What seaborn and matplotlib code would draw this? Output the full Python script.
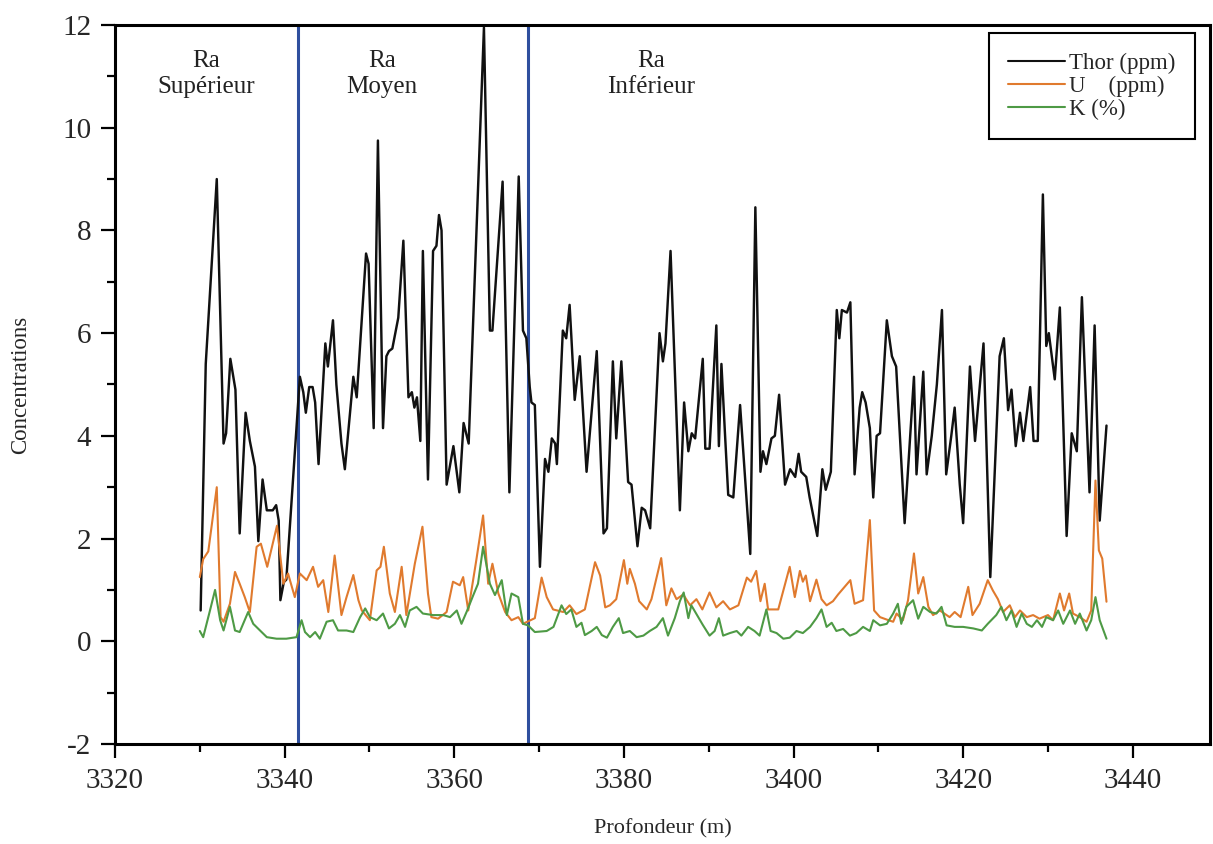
import matplotlib
matplotlib.use("Agg")
import matplotlib.pyplot as plt
from matplotlib.ticker import MultipleLocator
import pandas as pd
import seaborn as sns

# Well log: gamma-spectrometry concentrations versus depth (m)
thor_points = [
    (3330.1, 0.6), (3330.7, 5.4), (3332.0, 9.0), (3332.8, 3.85), (3333.1, 4.05),
    (3333.6, 5.5), (3334.2, 4.9), (3334.7, 2.1), (3335.4, 4.45), (3335.9, 3.9),
    (3336.5, 3.4), (3336.9, 1.95), (3337.4, 3.15), (3337.9, 2.55), (3338.6, 2.55),
    (3339.0, 2.65), (3339.3, 2.35), (3339.5, 0.8), (3339.9, 1.15), (3340.2, 1.2),
    (3341.8, 5.15), (3342.2, 4.85), (3342.5, 4.45), (3342.9, 4.95), (3343.3, 4.95),
    (3343.6, 4.65), (3344.0, 3.45), (3344.8, 5.8), (3345.1, 5.35), (3345.7, 6.25),
    (3346.1, 5.0), (3346.7, 3.85), (3347.1, 3.35), (3348.1, 5.15), (3348.5, 4.75),
    (3349.6, 7.55), (3349.9, 7.35), (3350.5, 4.15), (3351.0, 9.75), (3351.6, 4.15),
    (3352.0, 5.55), (3352.3, 5.65), (3352.7, 5.7), (3353.4, 6.3), (3354.0, 7.8),
    (3354.6, 4.75), (3355.0, 4.85), (3355.3, 4.55), (3355.6, 4.75), (3356.0, 3.9),
    (3356.3, 7.6), (3356.9, 3.15), (3357.5, 7.6), (3357.9, 7.7), (3358.2, 8.3),
    (3358.5, 8.0), (3359.1, 3.05), (3359.9, 3.8), (3360.6, 2.9), (3361.1, 4.25),
    (3361.7, 3.85), (3363.5, 11.95), (3364.2, 6.05), (3364.5, 6.05), (3365.7, 8.95),
    (3366.5, 2.9), (3367.6, 9.05), (3368.1, 6.05), (3368.5, 5.9), (3368.9, 4.95),
    (3369.1, 4.65), (3369.5, 4.6), (3370.1, 1.45), (3370.7, 3.55), (3371.1, 3.3),
    (3371.5, 3.95), (3371.9, 3.85), (3372.1, 3.45), (3372.8, 6.05), (3373.2, 5.9),
    (3373.6, 6.55), (3373.8, 5.95), (3374.2, 4.7), (3374.8, 5.55), (3375.6, 3.3),
    (3376.8, 5.65), (3377.6, 2.1), (3378.0, 2.2), (3378.7, 5.45), (3379.1, 3.95),
    (3379.7, 5.45), (3380.5, 3.1), (3380.9, 3.05), (3381.6, 1.85), (3382.1, 2.6),
    (3382.5, 2.55), (3383.1, 2.2), (3384.2, 6.0), (3384.6, 5.45), (3384.9, 5.8),
    (3385.5, 7.6), (3386.6, 2.55), (3387.1, 4.65), (3387.6, 3.7), (3388.0, 4.05),
    (3388.4, 3.95), (3389.3, 5.5), (3389.6, 3.75), (3390.1, 3.75), (3390.9, 6.15),
    (3391.2, 3.8), (3391.5, 5.4), (3391.9, 4.1), (3392.3, 2.85), (3392.9, 2.8),
    (3393.7, 4.6), (3394.9, 1.7), (3395.5, 8.45), (3396.1, 3.3), (3396.4, 3.7),
    (3396.8, 3.45), (3397.4, 3.95), (3397.8, 4.0), (3398.3, 4.8), (3399.0, 3.05),
    (3399.6, 3.35), (3400.2, 3.2), (3400.6, 3.65), (3400.9, 3.3), (3401.5, 3.2),
    (3401.9, 2.8), (3402.8, 2.05), (3403.4, 3.35), (3403.8, 2.95), (3404.4, 3.3),
    (3405.1, 6.45), (3405.4, 5.9), (3405.7, 6.45), (3406.3, 6.4), (3406.7, 6.6),
    (3407.2, 3.25), (3407.8, 4.55), (3408.1, 4.85), (3408.5, 4.65), (3409.0, 4.15),
    (3409.4, 2.8), (3409.8, 4.0), (3410.2, 4.05), (3411.0, 6.25), (3411.6, 5.55),
    (3412.1, 5.35), (3413.1, 2.3), (3414.2, 5.15), (3414.5, 3.25), (3415.3, 5.25),
    (3415.7, 3.25), (3416.3, 4.0), (3416.9, 5.0), (3417.5, 6.45), (3418.0, 3.25),
    (3418.6, 4.0), (3419.0, 4.55), (3419.6, 3.05), (3420.0, 2.3), (3420.8, 5.35),
    (3421.4, 3.9), (3422.4, 5.8), (3423.2, 1.25), (3424.3, 5.55), (3424.8, 5.9),
    (3425.3, 4.5), (3425.7, 4.9), (3426.2, 3.8), (3426.7, 4.45), (3427.1, 3.9),
    (3427.9, 4.95), (3428.3, 3.9), (3428.8, 3.9), (3429.4, 8.7), (3429.8, 5.75),
    (3430.1, 6.0), (3430.8, 5.1), (3431.4, 6.5), (3432.2, 2.05), (3432.8, 4.05),
    (3433.4, 3.7), (3434.0, 6.7), (3434.9, 2.9), (3435.5, 6.15), (3436.1, 2.35),
    (3436.9, 4.2),
]

uranium_points = [
    (3330.0, 1.25), (3330.4, 1.6), (3331.0, 1.75), (3332.0, 3.0), (3332.45, 0.47),
    (3332.8, 0.38), (3333.55, 0.73), (3334.15, 1.35), (3334.7, 1.12), (3335.3, 0.86),
    (3335.9, 0.57), (3336.7, 1.84), (3337.2, 1.9), (3337.95, 1.45), (3339.1, 2.25),
    (3339.85, 1.12), (3340.4, 1.32), (3341.2, 0.86), (3341.8, 1.32), (3342.6, 1.19),
    (3343.35, 1.45), (3343.95, 1.06), (3344.55, 1.19), (3345.15, 0.57), (3345.9, 1.67),
    (3346.7, 0.51), (3347.3, 0.86), (3348.1, 1.29), (3348.7, 0.8), (3349.1, 0.6),
    (3350.05, 0.41), (3350.85, 1.38), (3351.3, 1.45), (3351.7, 1.84), (3352.4, 0.93),
    (3353.0, 0.57), (3353.8, 1.45), (3354.35, 0.51), (3355.35, 1.51), (3356.25, 2.23),
    (3356.9, 0.93), (3357.3, 0.47), (3358.1, 0.44), (3359.1, 0.57), (3359.85, 1.16),
    (3360.65, 1.09), (3361.05, 1.25), (3361.65, 0.6), (3362.6, 1.58), (3363.4, 2.45),
    (3364.0, 1.12), (3364.5, 1.51), (3365.2, 0.93), (3366.0, 0.57), (3366.75, 0.41),
    (3367.55, 0.47), (3368.1, 0.34), (3369.5, 0.45), (3370.3, 1.24), (3370.9, 0.86),
    (3371.65, 0.62), (3372.85, 0.57), (3373.6, 0.7), (3374.4, 0.53), (3375.4, 0.62),
    (3376.6, 1.54), (3377.2, 1.28), (3377.8, 0.66), (3378.35, 0.7), (3379.1, 0.82),
    (3380.0, 1.58), (3380.4, 1.12), (3380.7, 1.41), (3381.3, 1.12), (3381.8, 0.78),
    (3382.7, 0.62), (3383.25, 0.82), (3384.4, 1.62), (3385.0, 0.7), (3385.6, 1.03),
    (3386.2, 0.82), (3387.0, 0.91), (3387.8, 0.7), (3388.55, 0.82), (3389.25, 0.62),
    (3390.1, 0.95), (3390.9, 0.66), (3391.7, 0.78), (3392.5, 0.62), (3393.5, 0.7),
    (3394.5, 1.24), (3395.0, 1.16), (3395.6, 1.37), (3396.1, 0.78), (3396.6, 1.12),
    (3397.0, 0.62), (3398.2, 0.62), (3399.15, 1.2), (3399.55, 1.45), (3400.15, 0.86),
    (3400.75, 1.37), (3401.1, 1.16), (3401.45, 1.28), (3401.95, 0.78), (3402.7, 1.2),
    (3403.3, 0.82), (3403.9, 0.7), (3404.65, 0.78), (3405.25, 0.91), (3406.7, 1.19),
    (3407.2, 0.73), (3408.2, 0.8), (3409.0, 2.36), (3409.5, 0.6), (3410.2, 0.47),
    (3411.2, 0.41), (3411.75, 0.38), (3412.15, 0.54), (3412.9, 0.41), (3413.5, 0.8),
    (3414.2, 1.71), (3414.7, 0.93), (3415.3, 1.25), (3415.9, 0.67), (3416.45, 0.51),
    (3417.25, 0.6), (3418.4, 0.47), (3419.0, 0.57), (3419.7, 0.47), (3420.6, 1.06),
    (3421.1, 0.51), (3421.95, 0.73), (3422.9, 1.19), (3423.5, 0.99), (3424.1, 0.82),
    (3424.7, 0.57), (3425.5, 0.7), (3426.1, 0.47), (3426.7, 0.6), (3427.5, 0.47),
    (3428.25, 0.51), (3429.0, 0.44), (3430.0, 0.51), (3430.6, 0.41), (3431.4, 0.93),
    (3431.9, 0.6), (3432.5, 0.93), (3432.95, 0.54), (3433.75, 0.47), (3434.55, 0.38),
    (3435.1, 0.6), (3435.6, 3.13), (3436.0, 1.77), (3436.4, 1.61), (3436.9, 0.77),
]

potassium_points = [
    (3330.0, 0.2), (3330.4, 0.08), (3331.2, 0.6), (3331.8, 1.0), (3332.4, 0.41),
    (3332.8, 0.21), (3333.55, 0.67), (3334.15, 0.21), (3334.7, 0.18), (3335.7, 0.57),
    (3336.3, 0.34), (3337.1, 0.21), (3337.9, 0.08), (3339.05, 0.05), (3340.2, 0.05),
    (3341.4, 0.08), (3342.0, 0.41), (3342.4, 0.18), (3343.0, 0.08), (3343.6, 0.18),
    (3344.15, 0.05), (3344.95, 0.38), (3345.7, 0.41), (3346.3, 0.21), (3347.3, 0.21),
    (3348.1, 0.18), (3348.9, 0.47), (3349.5, 0.64), (3350.05, 0.47), (3350.85, 0.41),
    (3351.6, 0.54), (3352.3, 0.25), (3353.0, 0.34), (3353.6, 0.51), (3354.2, 0.28),
    (3354.75, 0.6), (3355.55, 0.67), (3356.3, 0.54), (3357.5, 0.51), (3358.7, 0.51),
    (3359.5, 0.47), (3360.3, 0.6), (3360.85, 0.34), (3361.45, 0.57), (3362.25, 0.9),
    (3362.8, 1.12), (3363.4, 1.84), (3364.2, 1.12), (3364.8, 0.9), (3365.6, 1.19),
    (3366.2, 0.51), (3366.75, 0.93), (3367.55, 0.86), (3368.1, 0.34), (3368.7, 0.31),
    (3369.5, 0.18), (3370.9, 0.2), (3371.7, 0.28), (3372.65, 0.7), (3373.2, 0.53),
    (3373.8, 0.62), (3374.4, 0.28), (3375.0, 0.36), (3375.4, 0.12), (3376.2, 0.2),
    (3376.8, 0.28), (3377.4, 0.12), (3378.0, 0.07), (3378.7, 0.28), (3379.4, 0.45),
    (3379.9, 0.16), (3380.7, 0.2), (3381.5, 0.08), (3382.3, 0.11), (3383.05, 0.2),
    (3383.85, 0.28), (3384.6, 0.45), (3385.2, 0.11), (3386.0, 0.45), (3386.6, 0.78),
    (3387.05, 0.95), (3387.6, 0.45), (3387.95, 0.7), (3388.55, 0.53), (3389.3, 0.32),
    (3390.1, 0.11), (3390.7, 0.2), (3391.2, 0.45), (3391.7, 0.11), (3392.5, 0.16),
    (3393.3, 0.2), (3393.85, 0.11), (3394.65, 0.28), (3395.4, 0.2), (3396.0, 0.11),
    (3396.8, 0.62), (3397.3, 0.2), (3398.0, 0.16), (3398.8, 0.05), (3399.55, 0.07),
    (3400.35, 0.2), (3401.1, 0.16), (3401.95, 0.28), (3402.7, 0.45), (3403.3, 0.62),
    (3403.9, 0.28), (3404.5, 0.36), (3405.05, 0.2), (3405.85, 0.24), (3406.65, 0.11),
    (3407.4, 0.16), (3408.2, 0.28), (3409.0, 0.2), (3409.4, 0.41), (3410.2, 0.31),
    (3411.0, 0.34), (3411.75, 0.54), (3412.3, 0.73), (3412.7, 0.34), (3413.3, 0.67),
    (3414.1, 0.8), (3414.7, 0.44), (3415.3, 0.67), (3416.1, 0.57), (3416.85, 0.54),
    (3417.45, 0.67), (3418.05, 0.31), (3419.0, 0.28), (3420.0, 0.28), (3421.2, 0.25),
    (3422.2, 0.21), (3422.9, 0.34), (3423.9, 0.51), (3424.5, 0.67), (3425.1, 0.41),
    (3425.7, 0.6), (3426.3, 0.28), (3426.9, 0.54), (3427.5, 0.34), (3428.1, 0.28),
    (3428.7, 0.41), (3429.3, 0.28), (3429.8, 0.47), (3430.6, 0.41), (3431.2, 0.6),
    (3431.8, 0.34), (3432.6, 0.6), (3433.2, 0.34), (3433.75, 0.54), (3434.55, 0.21),
    (3435.1, 0.41), (3435.6, 0.86), (3436.1, 0.41), (3436.9, 0.05),
]

# Boundaries between the Ra members (m)
boundaries = [3341.6, 3368.7]
zone_labels = ["Ra\nSupérieur", "Ra\nMoyen", "Ra\nInférieur"]
zone_centres = [3330.8, 3351.5, 3383.2]

series_labels = ["Thor (ppm)", "U    (ppm)", "K (%)"]
series_colors = ["#111111", "#E07A2E", "#4E9A45"]

x_ticks = [3320, 3340, 3360, 3380, 3400, 3420, 3440]
y_ticks = [-2, 0, 2, 4, 6, 8, 10, 12]

frames = []
for label, pts in zip(series_labels, [thor_points, uranium_points, potassium_points]):
    df = pd.DataFrame(pts, columns=["depth", "value"])
    df["series"] = label
    frames.append(df)
data = pd.concat(frames, ignore_index=True)

sns.set_style("ticks")
plt.rcParams["font.family"] = ["Liberation Serif", "DejaVu Serif"]
plt.rcParams["axes.unicode_minus"] = False

fig = plt.figure(figsize=(12.13, 8.44), dpi=100)
ax = fig.add_axes([0.0948, 0.1185, 0.9027, 0.8519])

widths = {"Thor (ppm)": 1.75, "U    (ppm)": 1.5, "K (%)": 1.5}
for label, color in zip(series_labels, series_colors):
    sub = data[data["series"] == label]
    sns.lineplot(data=sub, x="depth", y="value", ax=ax, color=color,
                 lw=widths[label], estimator=None, sort=False, label=label)

for b in boundaries:
    ax.axvline(b, color="#2F4F9E", lw=2.2, zorder=1)

for cx, txt in zip(zone_centres, zone_labels):
    ax.text(cx, 11.04, txt, ha="center", va="center", fontsize=18,
            linespacing=1.25, color="#222222")

ax.set_xlim(3320, 3449.1)
ax.set_ylim(-2, 12)
ax.set_xticks(x_ticks)
ax.set_yticks(y_ticks)
ax.xaxis.set_minor_locator(MultipleLocator(10))
ax.yaxis.set_minor_locator(MultipleLocator(1))

for sp in ax.spines.values():
    sp.set_linewidth(2.2)
    sp.set_color("black")

ax.tick_params(which="major", direction="out", length=10, width=1.6,
               labelsize=21, pad=7, top=False, right=False, color="black")
ax.tick_params(which="minor", direction="out", length=5.5, width=1.6,
               top=False, right=False, color="black")

ax.set_xlabel("Profondeur (m)", fontsize=16)
ax.set_ylabel("Concentrations", fontsize=16.5)
ax.xaxis.set_label_coords(0.5, -0.105)
ax.yaxis.set_label_coords(-0.077, 0.5)

leg = ax.legend(loc="upper right", bbox_to_anchor=(0.986, 0.989), borderaxespad=0,
                fontsize=16.5, handlelength=2.5, handletextpad=0.15,
                labelspacing=0.08, borderpad=0.85, fancybox=False,
                frameon=True, framealpha=1, edgecolor="black")
leg.get_frame().set_linewidth(1.5)
for line in leg.get_lines():
    line.set_linewidth(1.5)

fig.savefig("out.png", dpi=100, facecolor="white")
